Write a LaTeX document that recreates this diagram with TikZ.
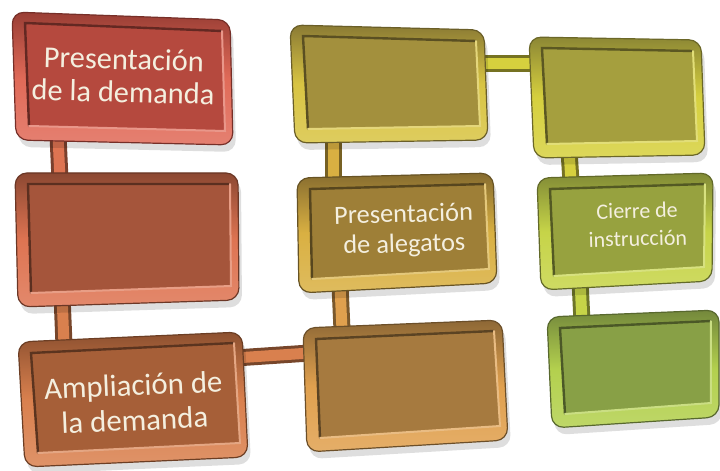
\documentclass[tikz,border=0pt]{standalone}
\usepackage{fontspec}
\setmainfont{Carlito}
\usepackage{tikz}
\usetikzlibrary{calc}

\definecolor{rimA}{HTML}{E06A58}
\definecolor{faceA}{HTML}{B5493E}
\definecolor{rimB}{HTML}{DE7452}
\definecolor{faceB}{HTML}{A5553B}
\definecolor{rimC}{HTML}{D9804E}
\definecolor{faceC}{HTML}{A65F38}
\definecolor{rimD}{HTML}{E0A04E}
\definecolor{faceD}{HTML}{A67A3F}
\definecolor{rimE}{HTML}{D9B042}
\definecolor{faceE}{HTML}{9E7F37}
\definecolor{rimF}{HTML}{D8C443}
\definecolor{faceF}{HTML}{A3903D}
\definecolor{rimG}{HTML}{D6D03E}
\definecolor{faceG}{HTML}{A59F3E}
\definecolor{rimH}{HTML}{C6D448}
\definecolor{faceH}{HTML}{97A23F}
\definecolor{rimI}{HTML}{B3D04E}
\definecolor{faceI}{HTML}{88A046}
\definecolor{txtcol}{HTML}{F4EFDF}

\tikzset{
  boxshadow/.style={fill=black, opacity=0.13, rounded corners=6pt},
  rod/.style={line width=1.5pt, draw=#1!55!black, double=#1, double distance=5.5pt},
  lbl/.style={text=txtcol, align=center, inner sep=0pt},
}

% #1 name, #2-#5 corners (tl, tr, br, bl), #6 rim colour, #7 face colour
\newcommand{\bevbox}[7]{%
  \fill[boxshadow] ($#2+(3,7)$) -- ($#3+(3,7)$) -- ($#4+(3,7)$) -- ($#5+(3,7)$) -- cycle;
  \path[rounded corners=6pt, top color=#7!85!black, bottom color=#6!85!white, middle color=#6,
    draw=#7!65!black, line width=0.6pt] #2 -- #3 -- #4 -- #5 -- cycle;
  \coordinate (#1-tl) at ($#2+(13,11)$);
  \coordinate (#1-tr) at ($#3+(-8,11)$);
  \coordinate (#1-br) at ($#4+(-8,-14)$);
  \coordinate (#1-bl) at ($#5+(13,-14)$);
  \fill[#7] (#1-tl) -- (#1-tr) -- (#1-br) -- (#1-bl) -- cycle;
  \draw[#7!55!black, line width=1.2pt, line cap=round] (#1-bl) -- (#1-tl) -- (#1-tr);
  \draw[#6!70!white, line width=1pt, line cap=round] (#1-tr) -- (#1-br) -- (#1-bl);
  \coordinate (#1) at ($#2!0.5!#4$);
}

\begin{document}
\begin{tikzpicture}[x=0.5pt, y=-0.5pt]
  \useasboundingbox (0,0) rectangle (720,471);
  \coordinate (r12a) at (58,135);   \coordinate (r12b) at (60,180);
  \coordinate (r23a) at (62,295);   \coordinate (r23b) at (64,345);
  \coordinate (r36a) at (235,358);  \coordinate (r36b) at (310,353);
  \coordinate (r65a) at (342,330);  \coordinate (r65b) at (340,285);
  \coordinate (r54a) at (334,185);  \coordinate (r54b) at (334,135);
  \coordinate (r47a) at (480,64);   \coordinate (r47b) at (535,64);
  \coordinate (r78a) at (569,150);  \coordinate (r78b) at (571,182);
  \coordinate (r89a) at (580,280);  \coordinate (r89b) at (582,322);
  \draw[rod=rimB] (r12a) -- (r12b);
  \draw[rod=rimC] (r23a) -- (r23b);
  \draw[rod=rimC] (r36a) -- (r36b);
  \draw[rod=rimD] (r65a) -- (r65b);
  \draw[rod=rimE] (r54a) -- (r54b);
  \draw[rod=rimG] (r47a) -- (r47b);
  \draw[rod=rimG] (r78a) -- (r78b);
  \draw[rod=rimH] (r89a) -- (r89b);

  \bevbox{b1}{(12,12)}{(230,20)}{(233,145)}{(16,140)}{rimA}{faceA}
  \bevbox{b2}{(15,173)}{(238,173)}{(239,300)}{(18,307)}{rimB}{faceB}
  \bevbox{b3}{(18,342)}{(242,332)}{(248,457)}{(25,467)}{rimC}{faceC}
  \bevbox{b6}{(303,328)}{(502,320)}{(508,440)}{(307,452)}{rimD}{faceD}
  \bevbox{b5}{(297,178)}{(493,173)}{(497,283)}{(299,293)}{rimE}{faceE}
  \bevbox{b4}{(290,25)}{(484,30)}{(488,140)}{(295,143)}{rimF}{faceF}
  \bevbox{b7}{(529,37)}{(701,40)}{(705,155)}{(534,158)}{rimG}{faceG}
  \bevbox{b8}{(537,178)}{(713,173)}{(712,281)}{(541,290)}{rimH}{faceH}
  \bevbox{b9}{(547,317)}{(719,310)}{(719,417)}{(552,428)}{rimI}{faceI}

  \node[lbl, font=\fontsize{15.2}{16.5}\selectfont, rotate=-1.5] (demanda) at ($(b1)+(1,-3)$) {Presentación\\de la demanda};
  \node[lbl, font=\fontsize{15.4}{17.5}\selectfont, rotate=2.5] (ampliacion) at ($(b3)+(1,3)$) {Ampliación de\\la demanda};
  \node[lbl, font=\fontsize{13.2}{15}\selectfont, rotate=1.5] (alegatos) at ($(b5)+(7,0)$) {Presentación\\de alegatos};
  \node[lbl, font=\fontsize{11}{14}\selectfont, rotate=1.5] (cierre) at ($(b8)+(13,-5)$) {Cierre de\\instrucción};
\end{tikzpicture}
\end{document}
